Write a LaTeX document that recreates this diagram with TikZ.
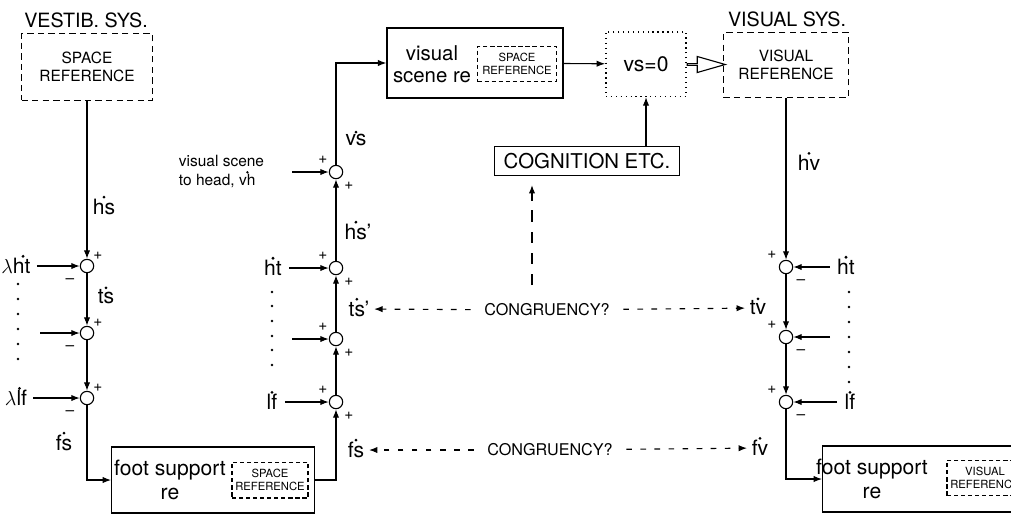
\documentclass[tikz,border=0pt]{standalone}
\usepackage{fontspec}
\setmainfont{TeX Gyre Heros}
\usetikzlibrary{arrows.meta,shapes.arrows,calc}
\begin{document}
\begin{tikzpicture}[x=0.025cm,y=-0.025cm,line width=0.8pt,>={Latex[length=6pt,width=4.5pt]},
  sumpt/.style={circle,draw,inner sep=0pt,minimum size=9.5pt},
  refbox/.style={draw,line width=1.1pt,dash pattern=on 4.5pt off 3pt,align=center,inner sep=0pt},
  smallref/.style={refbox,line width=0.8pt,dash pattern=on 3pt off 2pt,font=\fontsize{8}{9.5}\selectfont},
  blk/.style={draw,line width=1pt,inner sep=0pt},
  lbl/.style={font=\fontsize{15}{17}\selectfont,inner sep=1pt},
  smalllbl/.style={font=\fontsize{11}{13}\selectfont,inner sep=1pt,anchor=west},
  sgn/.style={font=\fontsize{11}{11}\selectfont,inner sep=0pt},
  syslbl/.style={font=\fontsize{14}{16}\selectfont},
  cong/.style={->,dash pattern=on 4pt off 6pt,shorten <=6pt,shorten >=2pt}]
\useasboundingbox (0,0) rectangle (1011,515);
\clip (0,0) rectangle (1011,515);
% vestibular side
\node[syslbl] (vestlbl) at (86,20) {VESTIB. SYS.};
\node[refbox,minimum width=93pt,minimum height=47.5pt,font=\fontsize{11}{13}\selectfont] (spaceref) at (87,67) {SPACE\\REFERENCE};
\node[sumpt] (sumA1) at (87,266) {};
\node[sumpt] (sumA2) at (87,333) {};
\node[sumpt] (sumA3) at (87,398) {};
\node[lbl] (lamht) at (16,266) {$\lambda$ht};
\coordinate (inA2) at (40,333);
\node[lbl] (lamlf) at (16,398) {$\lambda$lf};
\draw[->] (spaceref) -- (sumA1);
\draw[->] (sumA1) -- (sumA2);
\draw[->] (sumA2) -- (sumA3);
\draw[->,shorten <=3pt] (lamht) -- (sumA1);
\draw[->] (inA2) -- (sumA2);
\draw[->,shorten <=3pt] (lamlf) -- (sumA3);
\node[sgn] (pA1) at (98,256) {+};
\node[sgn] (mA1) at (70,281) {--};
\node[sgn] (pA2) at (98,323) {+};
\node[sgn] (mA2) at (70,348) {--};
\node[sgn] (pA3) at (98,388) {+};
\node[sgn] (mA3) at (70,413) {--};
\node[lbl] (hsA) at (104,207) {hs};
\node[lbl] (tsA) at (106,297) {ts};
\node[lbl] (fsA) at (64,443) {fs};
\fill (18,284) circle (1pt) (18,299) circle (1pt) (18,314) circle (1pt)
  (18,329) circle (1pt) (18,344) circle (1pt) (18,359) circle (1pt);
\node[blk,minimum width=144pt,minimum height=47pt] (footA) at (213,480) {};
\node[lbl,align=center] (footAtxt) at (170,480) {foot support\\re};
\node[smallref,minimum width=54pt,minimum height=25.5pt] (footAref) at (270,480) {SPACE\\REFERENCE};
\draw[->] (sumA3) |- (footA);
% head / visual scene chain
\node[sumpt] (sumB1) at (336,172) {};
\node[sumpt] (sumB2) at (336,268) {};
\node[sumpt] (sumB3) at (336,339) {};
\node[sumpt] (sumB4) at (336,402) {};
\node[blk,minimum width=125pt,minimum height=50pt] (vscene) at (475,63) {};
\node[lbl,align=center,font=\fontsize{14.5}{16}\selectfont] (vscenetxt) at (432,64) {visual\\scene re};
\node[smallref,minimum width=56pt,minimum height=25pt] (vsceneref) at (517,64) {SPACE\\REFERENCE};
\draw[->] (footA.east) -| (sumB4);
\draw[->] (sumB4) -- (sumB3);
\draw[->] (sumB3) -- (sumB2);
\draw[->] (sumB2) -- (sumB1);
\draw[->] (sumB1) |- (vscene);
\node[smalllbl] (vhtop) at (177,161) {visual scene};
\node[smalllbl] (vhbot) at (177,181) {to head, vh};
\coordinate (inB1) at (292,172);
\node[lbl] (htB) at (273,268) {ht};
\coordinate (inB3) at (292,339);
\node[lbl] (lfB) at (272,402) {lf};
\draw[->] (inB1) -- (sumB1);
\draw[->,shorten <=4pt] (htB) -- (sumB2);
\draw[->] (inB3) -- (sumB3);
\draw[->,shorten <=4pt] (lfB) -- (sumB4);
\fill (272,292) circle (1pt) (272,306) circle (1pt) (272,321) circle (1pt)
  (272,336) circle (1pt) (272,350) circle (1pt) (272,365) circle (1pt);
\node[sgn] (pB1) at (323,160) {+};
\node[sgn] (qB1) at (349,186) {+};
\node[sgn] (pB2) at (323,256) {+};
\node[sgn] (qB2) at (349,282) {+};
\node[sgn] (pB3) at (323,327) {+};
\node[sgn] (qB3) at (349,353) {+};
\node[sgn] (pB4) at (323,390) {+};
\node[sgn] (qB4) at (349,416) {+};
\node[lbl] (vsB) at (356,140) {vs};
\node[lbl] (hsB) at (358,232) {hs'};
\node[lbl] (tsB) at (359,309) {ts'};
\node[lbl] (fsB) at (356,450) {fs};
% comparison and visual side
\node[draw,line width=1.2pt,dash pattern=on 0.9pt off 2.6pt,minimum width=57pt,minimum height=46pt,lbl] (vszero) at (646,64) {vs=0};
\node[syslbl] (vislbl) at (787,19) {VISUAL SYS.};
\node[refbox,minimum width=89pt,minimum height=46pt,font=\fontsize{11}{13}\selectfont] (visref) at (786,65) {VISUAL\\REFERENCE};
\draw[->] (vscene) -- (vszero);
\node[single arrow,draw,line width=0.8pt,inner sep=0pt,minimum width=11.4pt,single arrow head extend=3.5pt,
  single arrow tip angle=32,minimum height=27pt] (hollow) at ($(vszero.east)!0.5!(visref.west)$) {};
\node[blk,minimum width=131.5pt,minimum height=20.5pt,font=\fontsize{14.5}{16}\selectfont] (cog) at (587,161) {COGNITION ETC.};
\draw[->] (cog.north -| vszero) -- (vszero);
\coordinate (congbot) at (532,285);
\coordinate (congtip) at (532,185);
\draw[->,dash pattern=on 8pt off 7pt] (congbot) -- (congtip);
\node[sumpt] (sumC1) at (786,267) {};
\node[sumpt] (sumC2) at (786,337) {};
\node[sumpt] (sumC3) at (786,402) {};
\draw[->] (visref) -- (sumC1);
\draw[->] (sumC1) -- (sumC2);
\draw[->] (sumC2) -- (sumC3);
\node[lbl] (htC) at (846,267) {ht};
\coordinate (inC2) at (830,337);
\node[lbl] (lfC) at (850,402) {lf};
\draw[->,shorten <=4pt] (htC) -- (sumC1);
\draw[->] (inC2) -- (sumC2);
\draw[->,shorten <=4pt] (lfC) -- (sumC3);
\fill (849,292) circle (1pt) (849,307) circle (1pt) (849,322) circle (1pt) (849,337) circle (1pt)
  (849,352) circle (1pt) (849,367) circle (1pt) (849,382) circle (1pt);
\node[sgn] (pC1) at (772,255) {+};
\node[sgn] (mC1) at (801,282) {--};
\node[sgn] (pC2) at (772,325) {+};
\node[sgn] (mC2) at (801,352) {--};
\node[sgn] (pC3) at (772,390) {+};
\node[sgn] (mC3) at (801,417) {--};
\node[lbl] (hvC) at (809,163) {hv};
\node[lbl] (tvC) at (758,308) {tv};
\node[lbl] (fvC) at (760,448) {fv};
\node[blk,minimum width=144pt,minimum height=47pt] (footB) at (924,479) {};
\node[lbl,align=center] (footBtxt) at (872,479) {foot support\\re};
\node[smallref,minimum width=54pt,minimum height=25pt] (footBref) at (985,478) {VISUAL\\REFERENCE};
\draw[->] (sumC3) |- (footB);
% rate dots over the labels
\fill (hsA.north) circle (1.1pt) (tsA.north) circle (1.1pt) (fsA.north) circle (1.1pt)
  ([xshift=5pt]lamht.north) circle (1.1pt) ([xshift=2.5pt]lamlf.north) circle (1.1pt)
  (vsB.north) circle (1.1pt) ([xshift=-1.5pt]hsB.north) circle (1.1pt) ([xshift=-1.5pt]tsB.north) circle (1.1pt)
  (fsB.north) circle (1.1pt) (htB.north) circle (1.1pt) (lfB.north) circle (1.1pt)
  (hvC.north) circle (1.1pt) (tvC.north) circle (1.1pt) (fvC.north) circle (1.1pt)
  (htC.north) circle (1.1pt) (lfC.north) circle (1.1pt)
  ([xshift=-7pt]vhbot.north east) circle (0.9pt);
% congruency checks
\node[font=\fontsize{11.5}{13}\selectfont] (cong1) at (547,310) {CONGRUENCY?};
\node[font=\fontsize{11.5}{13}\selectfont] (cong2) at (550,450) {CONGRUENCY?};
\draw[cong] (cong1) -- (tsB);
\draw[cong] (cong1) -- (tvC);
\draw[cong] (cong2) -- (fsB);
\draw[cong] (cong2) -- (fvC);
\end{tikzpicture}
\end{document}
